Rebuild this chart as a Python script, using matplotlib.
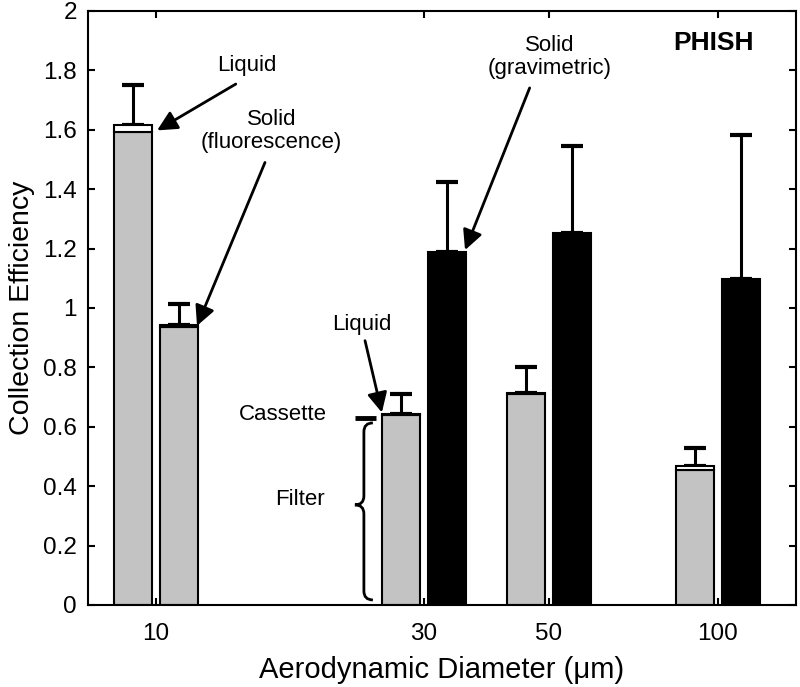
import numpy as np
import matplotlib
matplotlib.use('Agg')
import matplotlib.pyplot as plt
from matplotlib.path import Path
from matplotlib.patches import PathPatch

plt.rcParams['font.family'] = ['Liberation Sans', 'DejaVu Sans']

# data
diam = [10, 30, 50, 100]
tick_labels = ['10', '30', '50', '100']
# liquid (PHISH liquid) bars: filter part + cassette part, upper error
liquid_filter = [1.593, 0.638, 0.710, 0.455]
liquid_cassette = [0.022, 0.004, 0.004, 0.012]
liquid_err = [0.135, 0.067, 0.087, 0.063]
# solid, fluorescence (10 um only)
fluor_filter = [0.935]
fluor_cassette = [0.008]
fluor_err = [0.07]
# solid, gravimetric (30, 50, 100 um)
grav_diam = [30, 50, 100]
grav_val = [1.187, 1.252, 1.097]
grav_err = [0.237, 0.293, 0.487]

GRAY = '#c3c3c3'
off = 0.041     # half spacing between paired bars (decades)
w = 0.068       # bar width (decades)
FS = 16

fig = plt.figure(figsize=(8, 6.87), dpi=100)
ax = fig.add_axes([0.11, 0.1194, 0.885, 0.8646])

lx = np.log10(diam)
xl = lx - off
ax.bar(xl, liquid_filter, width=w, color=GRAY, edgecolor='k', linewidth=1.5, zorder=2)
ax.bar(xl, liquid_cassette, width=w, bottom=liquid_filter, color='white',
       edgecolor='k', linewidth=1.5, zorder=2)
tops = np.array(liquid_filter) + np.array(liquid_cassette)
ax.errorbar(xl, tops, yerr=[np.zeros(len(tops)), liquid_err], fmt='none',
            ecolor='k', elinewidth=2.2, capsize=8, capthick=3, zorder=1)

xf = np.log10(diam[:1]) + off
ax.bar(xf, fluor_filter, width=w, color=GRAY, edgecolor='k', linewidth=1.5, zorder=2)
ax.bar(xf, fluor_cassette, width=w, bottom=fluor_filter, color='white',
       edgecolor='k', linewidth=1.5, zorder=2)
ftops = np.array(fluor_filter) + np.array(fluor_cassette)
ax.errorbar(xf, ftops, yerr=[np.zeros(1), fluor_err], fmt='none',
            ecolor='k', elinewidth=2.2, capsize=8, capthick=3, zorder=1)

xg = np.log10(grav_diam) + off
ax.bar(xg, grav_val, width=w, color='k', edgecolor='k', linewidth=1.5, zorder=2)
ax.errorbar(xg, grav_val, yerr=[np.zeros(len(grav_val)), grav_err], fmt='none',
            ecolor='k', elinewidth=2.2, capsize=8, capthick=3, zorder=1)

ax.set_xlim(0.879, 2.139)
ax.set_ylim(0, 2)
ax.set_xticks(lx)
ax.set_xticklabels(tick_labels)
ax.set_yticks(np.arange(0, 2.01, 0.2))
ax.set_yticklabels(['0', '0.2', '0.4', '0.6', '0.8', '1', '1.2', '1.4', '1.6', '1.8', '2'])
ax.tick_params(direction='in', length=5, width=1.5, top=True, right=True,
               labelsize=17.5, pad=8)
ax.tick_params(axis='x', pad=13)
for s in ax.spines.values():
    s.set_linewidth(1.5)

ax.set_xlabel('Aerodynamic Diameter (\u03bcm)', fontsize=21, labelpad=8)
ax.set_ylabel('Collection Efficiency', fontsize=20.5, labelpad=6)

arrow = dict(arrowstyle='-|>', lw=2, color='k', mutation_scale=30,
             shrinkA=0, shrinkB=0)
ax.text(1.162, 1.815, 'Liquid', fontsize=FS, ha='center', va='center')
ax.annotate('', xy=(1.002, 1.598), xytext=(1.142, 1.754), arrowprops=arrow)
ax.text(1.206, 1.596, 'Solid\n(fluorescence)', fontsize=FS, ha='center',
        va='center', linespacing=1.1)
ax.annotate('', xy=(1.073, 0.94), xytext=(1.194, 1.49), arrowprops=arrow)
ax.text(1.701, 1.845, 'Solid\n(gravimetric)', fontsize=FS, ha='center',
        va='center', linespacing=1.1)
ax.annotate('', xy=(1.55, 1.195), xytext=(1.665, 1.741), arrowprops=arrow)
ax.text(1.993, 1.892, 'PHISH', fontsize=19, fontweight='bold', ha='center',
        va='center')
ax.text(1.367, 0.943, 'Liquid', fontsize=FS, ha='center', va='center')
ax.annotate('', xy=(1.402, 0.648), xytext=(1.372, 0.89), arrowprops=arrow)
ax.text(1.226, 0.64, 'Cassette', fontsize=FS, ha='center', va='center')
ax.plot([1.354, 1.391], [0.63, 0.63], color='k', lw=3.5, solid_capstyle='butt')
ax.text(1.256, 0.354, 'Filter', fontsize=FS, ha='center', va='center')

# curly brace marking the filter part
xa, xs, xt = 1.386, 1.370, 1.354
ytop, ymid, ybot, r = 0.613, 0.337, 0.017, 0.03
verts = [(xa, ytop), (xs, ytop), (xs, ytop - r), (xs, ymid + r),
         (xs, ymid), (xt, ymid), (xs, ymid), (xs, ymid - r),
         (xs, ybot + r), (xs, ybot), (xa, ybot)]
codes = [Path.MOVETO, Path.CURVE3, Path.CURVE3, Path.LINETO,
         Path.CURVE3, Path.CURVE3, Path.CURVE3, Path.CURVE3,
         Path.LINETO, Path.CURVE3, Path.CURVE3]
ax.add_patch(PathPatch(Path(verts, codes), fill=False, lw=2, color='k'))

fig.savefig('out.png', dpi=100)
